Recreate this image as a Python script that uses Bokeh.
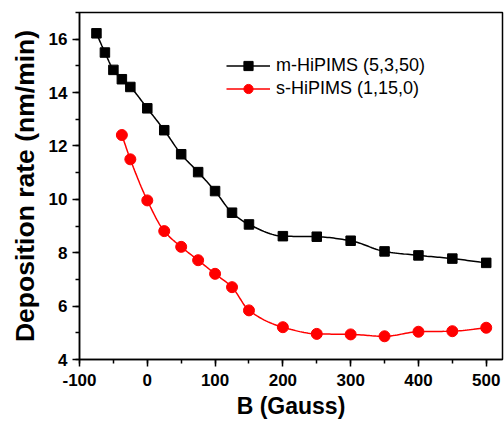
import numpy as np
from bokeh.plotting import figure
from bokeh.models import (SingleIntervalTicker, Legend, LegendItem, Range1d,
                          NumeralTickFormatter, Title)
from bokeh.embed import file_html
from bokeh.resources import INLINE

# Data
m_B = [-75, -62.5, -50, -37.5, -25, 0, 25, 50, 75, 100, 125, 150, 200, 250, 300, 350, 400, 450, 500]
m_rate = [16.22, 15.5, 14.85, 14.5, 14.21, 13.41, 12.59, 11.69, 11.02, 10.31, 9.5, 9.06, 8.62, 8.6, 8.45, 8.05, 7.9, 7.78, 7.62]
s_B = [-37.5, -25, 0, 25, 50, 75, 100, 125, 150, 200, 250, 300, 350, 400, 450, 500]
s_rate = [12.41, 11.5, 9.96, 8.81, 8.22, 7.72, 7.21, 6.71, 5.84, 5.21, 4.96, 4.94, 4.87, 5.04, 5.06, 5.19]
m_label = "m-HiPIMS (5,3,50)"
s_label = "s-HiPIMS (1,15,0)"
x_title = "B (Gauss)"
y_title = "Deposition rate (nm/min)"
x_ticks_interval = 100
y_ticks_interval = 2


def smooth(x, y, n=16):
    """Monotone cubic (PCHIP) curve through the data points, for drawing."""
    x = np.asarray(x, float)
    y = np.asarray(y, float)
    h = np.diff(x)
    d = np.diff(y) / h
    m = np.zeros_like(y)
    m[0], m[-1] = d[0], d[-1]
    for k in range(1, len(x) - 1):
        if d[k - 1] * d[k] > 0:
            w1 = 2 * h[k] + h[k - 1]
            w2 = h[k] + 2 * h[k - 1]
            m[k] = (w1 + w2) / (w1 / d[k - 1] + w2 / d[k])
    xs, ys = [], []
    for k in range(len(x) - 1):
        t = np.linspace(0, 1, n, endpoint=False)
        h00 = 2 * t**3 - 3 * t**2 + 1
        h10 = t**3 - 2 * t**2 + t
        h01 = -2 * t**3 + 3 * t**2
        h11 = t**3 - t**2
        xs.extend(x[k] + t * h[k])
        ys.extend(h00 * y[k] + h10 * h[k] * m[k] + h01 * y[k + 1] + h11 * h[k] * m[k + 1])
    xs.append(x[-1])
    ys.append(y[-1])
    return xs, ys


p = figure(width=504, height=421, output_backend="svg", toolbar_location=None,
           x_range=Range1d(-100, 524), y_range=Range1d(4, 17),
           min_border_left=79, min_border_right=2, min_border_top=12, min_border_bottom=62)
p.background_fill_color = None
p.border_fill_color = None
p.grid.visible = False
p.outline_line_color = "black"
p.outline_line_width = 1.5

mx, my = smooth(m_B, m_rate)
sx, sy = smooth(s_B, s_rate)
ml = p.line(mx, my, line_color="black", line_width=1.5)
ms = p.scatter(m_B, m_rate, marker="square", size=9.5, fill_color="black", line_color="black")
sl = p.line(sx, sy, line_color="#ff0000", line_width=1.5)
ss = p.scatter(s_B, s_rate, marker="circle", size=11, fill_color="#ff0000", line_color="#ff0000")

p.xaxis.ticker = SingleIntervalTicker(interval=x_ticks_interval, num_minor_ticks=2)
p.yaxis.ticker = SingleIntervalTicker(interval=y_ticks_interval, num_minor_ticks=2)
for ax in (p.xaxis, p.yaxis):
    ax.formatter = NumeralTickFormatter(format="0")
    ax.axis_line_color = "black"
    ax.axis_line_width = 1.5
    ax.major_tick_line_color = "black"
    ax.major_tick_line_width = 1.5
    ax.minor_tick_line_color = "black"
    ax.minor_tick_line_width = 1.5
    ax.major_tick_in = 0
    ax.major_tick_out = 7
    ax.minor_tick_in = 0
    ax.minor_tick_out = 4
    ax.major_label_text_font = "Liberation Sans"
    ax.major_label_text_font_style = "bold"
    ax.major_label_text_font_size = "17px"
    ax.major_label_text_color = "black"
    ax.axis_label_text_font = "Liberation Sans"
    ax.axis_label_text_font_style = "bold"
    ax.axis_label_text_color = "black"

p.xaxis.axis_label = x_title
p.xaxis.axis_label_text_font_size = "23px"
p.xaxis.major_label_standoff = 7
p.yaxis.major_label_standoff = 5
p.xaxis.axis_label_standoff = 4

# y-axis title, shifted slightly downward as in the reference
ytitle = Title(text=y_title, align="center", offset=-3, standoff=12,
               text_font="Liberation Sans", text_font_style="bold",
               text_font_size="26.5px", text_color="black")
p.add_layout(ytitle, "left")

legend = Legend(items=[LegendItem(label=m_label, renderers=[ml, ms]),
                       LegendItem(label=s_label, renderers=[sl, ss])],
                location=(147, 259), orientation="vertical",
                glyph_width=44, glyph_height=23, label_height=23, spacing=0,
                padding=10, margin=0, label_standoff=6,
                label_text_font="Liberation Sans", label_text_font_size="18px",
                label_text_color="black",
                border_line_color=None, background_fill_alpha=0)
p.add_layout(legend)

open("out.html", "w").write(file_html(p, INLINE))
